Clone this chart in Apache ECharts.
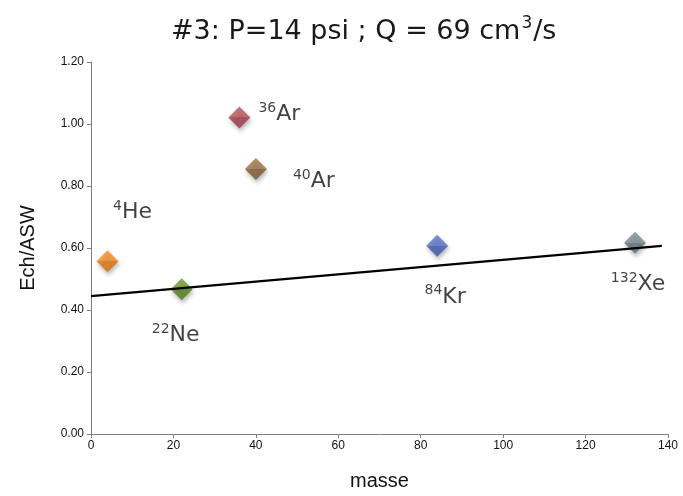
<!DOCTYPE html>
<html>
<head>
<meta charset="utf-8">
<script src="https://cdn.jsdelivr.net/npm/echarts@6/dist/echarts.min.js"></script>
<style>
html,body{margin:0;padding:0;background:#fff;}
#chart{width:683px;height:496px;}
</style>
</head>
<body>
<div id="chart"></div>
<script>
// ---- data ----
const massNumbers = [4, 22, 36, 40, 84, 132];
const isotopeSup = ['4', '22', '36', '40', '84', '132'];
const elements = ['He', 'Ne', 'Ar', 'Ar', 'Kr', 'Xe'];
const echAsw = [0.557, 0.467, 1.021, 0.855, 0.607, 0.617];
const trendX = [0, 138.5];
const trendY = [0.445, 0.607];
const xTicks = [0, 20, 40, 60, 80, 100, 120, 140];
const yTicks = [0.0, 0.2, 0.4, 0.6, 0.8, 1.0, 1.2];

// ---- styles ----
const markerTop = ['#F48C1E', '#6C9A28', '#B9545B', '#9C7242', '#5574CA', '#7A8A92'];
const markerBot = ['#DC740C', '#527E16', '#9C3A42', '#7E5830', '#3C58AC', '#5E6E76'];
const labelOffsets = [[25, -51], [-6, 44], [40, -5], [58, 10], [8, 49], [3, 40]];
const labelFont = '"DejaVu Sans", sans-serif';
const axisFont = '"Liberation Sans", Arial, sans-serif';

const chart = echarts.init(document.getElementById('chart'), null, {renderer: 'canvas'});

const scatterData = massNumbers.map((m, i) => ({
  value: [m, echAsw[i]],
  itemStyle: {
    color: new echarts.graphic.LinearGradient(0, 0, 0, 1, [
      {offset: 0, color: markerTop[i]},
      {offset: 0.5, color: markerTop[i]},
      {offset: 0.5, color: markerBot[i]},
      {offset: 1, color: markerBot[i]}
    ])
  },
  label: {
    show: true,
    position: [11, 11],
    align: 'center',
    verticalAlign: 'middle',
    offset: labelOffsets[i],
    formatter: '{s|' + isotopeSup[i] + '}{e|' + elements[i] + '}'
  }
}));

const option = {
  animation: false,
  title: {
    text: '{t|#3: P=14 psi ; Q = 69 cm}{s|3}{t|/s}',
    left: 166,
    top: 6,
    textStyle: {
      fontWeight: 'normal',
      rich: {
        t: {fontFamily: labelFont, fontSize: 27, fontWeight: 'normal', color: '#1a1a1a', verticalAlign: 'bottom', lineHeight: 34},
        s: {fontFamily: labelFont, fontSize: 17, fontWeight: 'normal', color: '#1a1a1a', verticalAlign: 'bottom', lineHeight: 34, padding: [0, 1, 13, 1]}
      }
    }
  },
  grid: {left: 91, right: 15, top: 62, bottom: 58, containLabel: false},
  xAxis: {
    type: 'value',
    min: xTicks[0],
    max: xTicks[xTicks.length - 1],
    interval: xTicks[1] - xTicks[0],
    name: 'masse',
    nameLocation: 'middle',
    nameGap: 37,
    nameTextStyle: {fontFamily: axisFont, fontSize: 20, color: '#111'},
    axisLine: {show: true, lineStyle: {color: '#7f7f7f', width: 1}},
    axisTick: {show: true, length: 4, lineStyle: {color: '#7f7f7f'}},
    axisLabel: {fontFamily: axisFont, fontSize: 12, color: '#111', margin: 6},
    splitLine: {show: false}
  },
  yAxis: {
    type: 'value',
    min: yTicks[0],
    max: yTicks[yTicks.length - 1],
    interval: 0.2,
    name: 'Ech/ASW',
    nameLocation: 'middle',
    nameGap: 53,
    nameTextStyle: {fontFamily: axisFont, fontSize: 20, color: '#111'},
    axisLine: {show: true, lineStyle: {color: '#7f7f7f', width: 1}},
    axisTick: {show: true, length: 4, lineStyle: {color: '#7f7f7f'}},
    axisLabel: {fontFamily: axisFont, fontSize: 12, color: '#111', margin: 7,
      formatter: v => v.toFixed(2)},
    splitLine: {show: false}
  },
  series: [
    {
      type: 'scatter',
      symbol: 'diamond',
      symbolSize: 22,
      z: 2,
      itemStyle: {shadowBlur: 4, shadowColor: 'rgba(0,0,0,0.35)', shadowOffsetX: 1, shadowOffsetY: 3},
      label: {
        color: '#111',
        textBorderWidth: 0,
        rich: {
          s: {fontFamily: labelFont, fontSize: 14, color: '#111', textBorderWidth: 0, verticalAlign: 'bottom', lineHeight: 26, padding: [0, 0, 10, 0]},
          e: {fontFamily: labelFont, fontSize: 22, color: '#111', textBorderWidth: 0, verticalAlign: 'bottom', lineHeight: 26}
        }
      },
      data: scatterData
    },
    {
      type: 'line',
      symbol: 'none',
      z: 3,
      lineStyle: {color: '#000', width: 2.2},
      data: trendX.map((x, i) => [x, trendY[i]])
    }
  ]
};
chart.setOption(option);
</script>
</body>
</html>
